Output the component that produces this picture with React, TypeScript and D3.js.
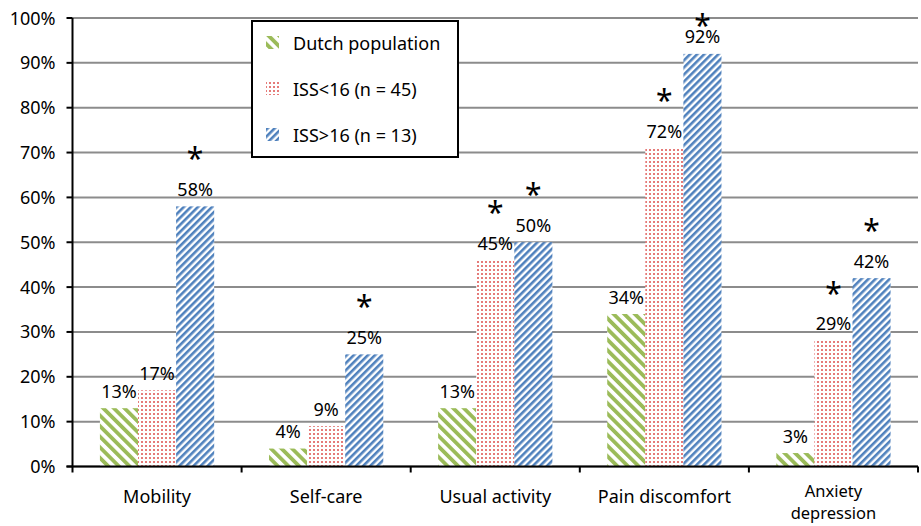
import * as d3 from "d3";

const width = 921;
const height = 526;

const categories = ["Mobility", "Self-care", "Usual activity", "Pain discomfort", "Anxiety\ndepression"];
const seriesNames = ["Dutch population", "ISS<16 (n = 45)", "ISS>16 (n = 13)"];
const dutch = [13, 4, 13, 34, 3];
const issLow = [17, 9, 46, 71, 28];
const issHigh = [58, 25, 50, 92, 42];
const dutchLabels = [13, 4, 13, 34, 3];
const issLowLabels = [17, 9, 45, 72, 29];
const issHighLabels = [58, 25, 50, 92, 42];
const dutchStar = [false, false, false, false, false];
const issLowStar = [false, false, true, true, true];
const issHighStar = [true, true, true, true, true];
const yTicks = [0, 10, 20, 30, 40, 50, 60, 70, 80, 90, 100];

const margin = { top: 18, right: 3, bottom: 59.5, left: 72.5 };
const font = "'Noto Sans', sans-serif";
const fs = 18;

const App = () => {
  const x0 = d3
    .scaleBand()
    .domain(categories)
    .range([margin.left, width - margin.right])
    .paddingInner(0)
    .paddingOuter(0);
  const x1 = d3
    .scaleBand()
    .domain(seriesNames)
    .range([0, x0.bandwidth()])
    .paddingInner(0)
    .paddingOuter(0.72);
  const y = d3
    .scaleLinear()
    .domain([0, 100])
    .range([height - margin.bottom, margin.top]);

  const series = [
    { name: seriesNames[0], values: dutch, labels: dutchLabels, stars: dutchStar, fill: "url(#green)" },
    { name: seriesNames[1], values: issLow, labels: issLowLabels, stars: issLowStar, fill: "url(#red)" },
    { name: seriesNames[2], values: issHigh, labels: issHighLabels, stars: issHighStar, fill: "url(#blue)" },
  ];

  const x0Ticks = categories.map((c) => x0(c)!).concat([width - margin.right]);

  return (
    <svg width={width} height={height} style={{ display: "block", position: "absolute", left: 0, top: 0 }}>
      <defs>
        <pattern id="green" width="7.5" height="7.5" patternUnits="userSpaceOnUse" patternTransform="rotate(-45)">
          <rect width="7.5" height="7.5" fill="#fff" />
          <rect width="3.8" height="7.5" fill="#9BBB59" />
        </pattern>
        <pattern id="blue" width="5" height="5" patternUnits="userSpaceOnUse" patternTransform="rotate(45)">
          <rect width="5" height="5" fill="#fff" />
          <rect width="2.6" height="5" fill="#4F81BD" />
        </pattern>
        <pattern id="red" width="4" height="4" patternUnits="userSpaceOnUse">
          <rect width="4" height="4" fill="#fff" />
          <rect x="1" y="1" width="2" height="2" fill="#DE5A57" opacity="0.8" />
        </pattern>
      </defs>
      <rect width={width} height={height} fill="#fff" />

      {/* gridlines */}
      {yTicks.map((t) => (
        <line key={"g" + t} x1={margin.left} x2={width - margin.right} y1={y(t)} y2={y(t)} stroke="#8c8c8c" strokeWidth={2} />
      ))}

      {/* bars */}
      {series.map((s) =>
        categories.map((c, i) => (
          <rect
            key={s.name + c}
            x={x0(c)! + x1(s.name)!}
            y={y(s.values[i])}
            width={x1.bandwidth()}
            height={y(0) - y(s.values[i])}
            fill={s.fill}
          />
        ))
      )}

      {/* value labels and stars */}
      {series.map((s) =>
        categories.map((c, i) => {
          const cx = x0(c)! + x1(s.name)! + x1.bandwidth() / 2;
          const ly = y(s.values[i]) - 17;
          const sy = Math.max(ly - 37, 19);
          return (
            <g key={"l" + s.name + c} fontFamily={font}>
              <text x={cx} y={ly + 6.5} textAnchor="middle" fontSize={fs} fill="#000">
                {s.labels[i] + "%"}
              </text>
              {s.stars[i] && (
                <text x={cx} y={sy + 17} textAnchor="middle" fontSize={30} fill="#000">
                  *
                </text>
              )}
            </g>
          );
        })
      )}

      {/* y axis */}
      <line x1={margin.left} x2={margin.left} y1={y(100)} y2={y(0)} stroke="#000" strokeWidth={2} />
      {yTicks.map((t) => (
        <g key={"t" + t}>
          <line x1={margin.left - 6} x2={margin.left} y1={y(t)} y2={y(t)} stroke="#000" strokeWidth={2} />
          <text x={margin.left - 17} y={y(t) + 6.5} textAnchor="end" fontSize={fs} fontFamily={font} fill="#000">
            {t + "%"}
          </text>
        </g>
      ))}

      {/* x axis */}
      <line x1={margin.left - 6} x2={width - margin.right} y1={y(0)} y2={y(0)} stroke="#000" strokeWidth={2} />
      {x0Ticks.map((tx, i) => (
        <line key={"xt" + i} x1={tx} x2={tx} y1={y(0)} y2={y(0) + 6} stroke="#000" strokeWidth={2} />
      ))}
      {categories.map((c) => {
        const lines = c.split("\n");
        const cx = x0(c)! + x0.bandwidth() / 2;
        return lines.map((line, j) => (
          <text
            key={"c" + c + j}
            x={cx}
            y={(lines.length > 1 ? y(0) + 30 : y(0) + 36) + j * 22.5}
            textAnchor="middle"
            fontSize={lines.length > 1 ? 16.5 : fs}
            fontFamily={font}
            fill="#000"
          >
            {line}
          </text>
        ));
      })}

      {/* legend */}
      <g transform="translate(252,21)">
        <rect width={206} height={136} fill="#fff" stroke="#000" strokeWidth={2} />
        {series.map((s, i) => (
          <g key={"lg" + s.name} transform={`translate(0,${22 + i * 46})`}>
            <rect x={14} y={-7} width={13} height={13} fill={s.fill} />
            <text x={41} y={6.5} fontSize={fs} fontFamily={font} fill="#000">
              {s.name}
            </text>
          </g>
        ))}
      </g>
    </svg>
  );
};

export default App;
